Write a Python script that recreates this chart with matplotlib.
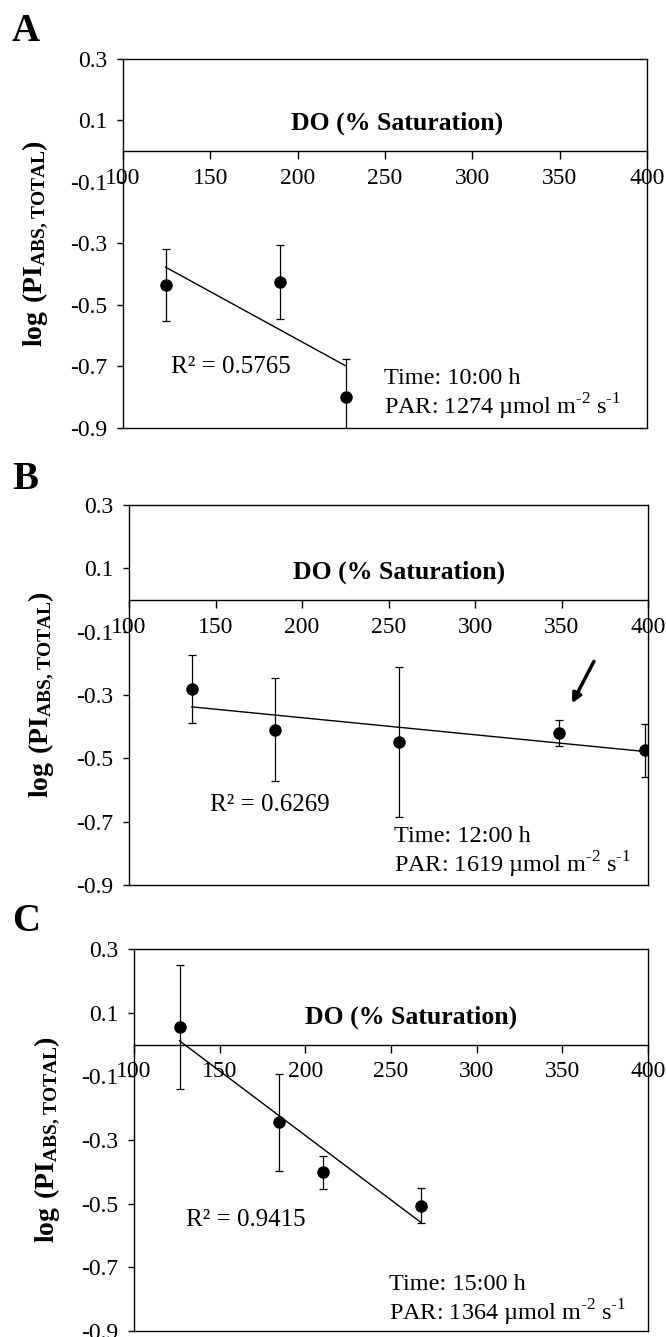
import numpy as np
import matplotlib
matplotlib.use("Agg")
import matplotlib.pyplot as plt

plt.rcParams['font.family'] = ['Liberation Serif', 'DejaVu Serif']
plt.rcParams['mathtext.fontset'] = 'custom'
plt.rcParams['mathtext.rm'] = 'Liberation Serif'
plt.rcParams['mathtext.bf'] = 'Liberation Serif:bold'
plt.rcParams['axes.unicode_minus'] = False

# panel A (10:00 h)
do_a = [124.4, 190.1, 227.4]
pi_a = [-0.434, -0.424, -0.798]
err_a = [0.117, 0.120, 0.124]

# panel B (12:00 h)
do_b = [136.3, 184.2, 255.9, 348.7, 398.5]
pi_b = [-0.281, -0.409, -0.448, -0.420, -0.475]
err_b = [0.106, 0.164, 0.236, 0.040, 0.083]

# panel C (15:00 h)
do_c = [126.6, 184.4, 210.6, 267.3]
pi_c = [0.054, -0.245, -0.401, -0.506]
err_c = [0.195, 0.152, 0.052, 0.056]

r2_labels = ['R² = 0.5765', 'R² = 0.6269', 'R² = 0.9415']
times = ['Time: 10:00 h', 'Time: 12:00 h', 'Time: 15:00 h']
pars = ['1274', '1619', '1364']
letters = ['A', 'B', 'C']

x_ticks = [100, 150, 200, 250, 300, 350, 400]
y_ticks = [-0.9, -0.7, -0.5, -0.3, -0.1, 0.1, 0.3]
y_tick_labels = ['-0.9', '-0.7', '-0.5', '-0.3', '-0.1', '0.1', '0.3']

W, H = 666, 1337
fig = plt.figure(figsize=(W / 100, H / 100), dpi=100)

# axes boxes in pixels: left, top, right, bottom
boxes = [(123, 59, 647, 428), (129, 505, 648, 885), (134, 949, 648, 1331)]
# text positions (data coords): r2 xy, time xy, par y, DO label xy
txt_pos = [
    ((127.3, -0.701), (249.4, -0.738), -0.830, (256.7, 0.091)),
    ((146.6, -0.646), (253.4, -0.747), -0.836, (255.9, 0.089)),
    ((130.4, -0.550), (248.6, -0.755), -0.844, (261.8, 0.086)),
]
letter_base = [41, 489, 931]

data = [(do_a, pi_a, err_a), (do_b, pi_b, err_b), (do_c, pi_c, err_c)]

for i, (x, y, e) in enumerate(data):
    l, t, r, b = boxes[i]
    ax = fig.add_axes([l / W, 1 - b / H, (r - l) / W, (b - t) / H])
    ax.set_xlim(100, 400)
    ax.set_ylim(-0.9, 0.3)

    ax.errorbar(x, y, yerr=e, fmt='o', color='black', ms=8, elinewidth=0.9,
                capsize=3, capthick=0.9, zorder=3)
    # linear trend line (as in Excel)
    k, c0 = np.polyfit(x, y, 1)
    xx = np.array([min(x), max(x)])
    ax.plot(xx, k * xx + c0, color='black', lw=1.0, zorder=2)

    # x axis crossing at y = 0, box closed at the bottom
    ax.spines['bottom'].set_position(('data', 0))
    ax.plot([0, 1], [0, 0], transform=ax.transAxes, color='black', lw=1.0,
            clip_on=False)
    for s in ax.spines.values():
        s.set_linewidth(1.0)

    ax.set_xticks(x_ticks)
    ax.set_xticklabels([str(v) for v in x_ticks])
    ax.set_yticks(y_ticks)
    ax.set_yticklabels(y_tick_labels)
    ax.tick_params(axis='x', direction='out', length=6, width=1.0, pad=6,
                   labelsize=17)
    ax.tick_params(axis='y', direction='out', length=4, width=1.0, pad=7,
                   labelsize=17)

    ax.set_ylabel(r'$\mathbf{log\ (PI_{ABS,TOTAL})}$', fontsize=20)
    ax.yaxis.set_label_coords(-0.14, 0.5)

    r2xy, txy, pary, doxy = txt_pos[i]
    ax.text(r2xy[0], r2xy[1], r2_labels[i], fontsize=18, ha='left', va='center')
    ax.text(txy[0], txy[1], times[i], fontsize=17.5, ha='left', va='center')
    ax.text(txy[0], pary, 'PAR: ' + pars[i] + ' µmol m$^{‐2}$ s$^{‐1}$',
            fontsize=17.5, ha='left', va='center')
    ax.text(doxy[0], doxy[1], 'DO (% Saturation)', fontsize=18.5,
            fontweight='bold', ha='center', va='center')

    if i == 1:
        ax.annotate('', xy=(355.3, -0.334), xytext=(369.5, -0.186),
                    arrowprops=dict(arrowstyle='-|>', color='black', lw=2.5,
                                    mutation_scale=14))

    fig.text(12 / W, 1 - letter_base[i] / H, letters[i], fontsize=28,
             fontweight='bold', ha='left', va='baseline')

fig.savefig('out.png', dpi=100)
